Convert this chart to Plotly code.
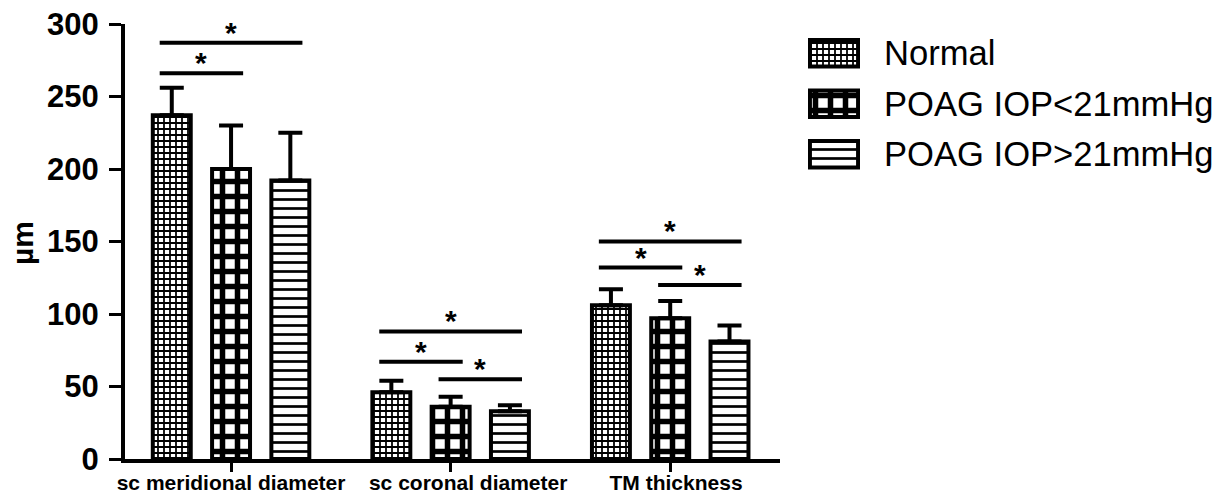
import plotly.graph_objects as go

categories = ["sc meridional diameter", "sc coronal diameter", "TM thickness"]
series_names = ["Normal", "POAG IOP<21mmHg", "POAG IOP>21mmHg"]
normal = [237, 46, 106]
poag_low = [200, 36, 97]
poag_high = [192, 33, 81]
normal_err = [19, 8, 11]
poag_low_err = [30, 7, 12]
poag_high_err = [33, 4, 11]

# significance comparisons: group, bar i, bar j, bracket level (µm)
sig_group = [0, 0, 1, 1, 1, 2, 2, 2]
sig_from = [0, 0, 0, 0, 1, 0, 0, 1]
sig_to = [1, 2, 2, 1, 2, 2, 1, 2]
sig_level = [266, 287, 88, 67, 55, 150, 132, 120]
sig_label = ["*"] * 8

yticks = [0, 50, 100, 150, 200, 250, 300]

values = [normal, poag_low, poag_high]
errors = [normal_err, poag_low_err, poag_high_err]
patterns = [
    dict(shape="+", size=6, solidity=0.5),
    dict(shape="+", size=15, solidity=0.6),
    dict(shape="-", size=9, solidity=0.3),
]

W, H = 1217, 496
def xp(px):
    return px / W
def yp(py):
    return 1 - py / H

FONT = "Liberation Sans"
bargap = 0.19
bargroupgap = 0.36
n = len(series_names)
NB = "\u00a0"
# labels in the original sit slightly right of their ticks
tick_text = [categories[0], NB * 6 + categories[1], NB * 2 + categories[2]]

fig = go.Figure()
for k in range(n):
    pat = dict(fgcolor="black", bgcolor="white", fillmode="replace", **patterns[k])
    fig.add_trace(go.Bar(
        x=list(range(len(categories))), y=values[k], name=series_names[k],
        marker=dict(color="white", line=dict(color="black", width=4), pattern=pat),
        error_y=dict(type="data", array=errors[k], arrayminus=[0] * len(categories),
                     symmetric=False, color="black", thickness=4, width=12),
        showlegend=False, xaxis="x", yaxis="y",
    ))
    # custom legend swatch
    fig.add_trace(go.Bar(
        y=[k], x=[1], orientation="h", width=0.52,
        marker=dict(color="white", line=dict(color="black", width=4), pattern=pat),
        showlegend=False, xaxis="x2", yaxis="y2", hoverinfo="skip",
    ))
    fig.add_annotation(x=xp(882), xref="paper", y=k, yref="y2", text=series_names[k],
                       showarrow=False, xanchor="left", yanchor="middle",
                       font=dict(family=FONT, size=34.6, color="black"))

slot = (1 - bargap) / n
def bar_center(g, k):
    return g + (k - (n - 1) / 2) * slot

for g, i, j, lvl, lab in zip(sig_group, sig_from, sig_to, sig_level, sig_label):
    x0 = bar_center(g, i) - 0.055
    x1 = bar_center(g, j) + 0.055
    fig.add_shape(type="line", xref="x", yref="y", x0=x0, x1=x1, y0=lvl, y1=lvl,
                  line=dict(color="black", width=4))
    fig.add_annotation(x=(x0 + x1) / 2, y=lvl, xref="x", yref="y", text="<b>" + lab + "</b>",
                       showarrow=False, yanchor="bottom", yshift=-8,
                       font=dict(family=FONT, size=30, color="black"))

fig.add_annotation(x=xp(22), y=yp(243), xref="paper", yref="paper", text="<b>µm</b>",
                   textangle=-90, showarrow=False, xanchor="center", yanchor="middle",
                   font=dict(family=FONT, size=30, color="black"))

fig.update_layout(
    width=W, height=H, margin=dict(l=0, r=0, t=0, b=0),
    paper_bgcolor="white", plot_bgcolor="white",
    barmode="group", bargap=bargap, bargroupgap=bargroupgap,
    showlegend=False,
    xaxis=dict(domain=[xp(125), xp(780)], range=[-0.483, 2.5],
               tickvals=list(range(len(categories))), ticktext=tick_text, tickangle=0,
               ticks="outside", ticklen=9, tickwidth=3, tickcolor="black",
               showline=True, linewidth=4, linecolor="black", showgrid=False,
               zeroline=False, automargin=False, ticklabelstandoff=-7,
               ticklabeloverflow="allow",
               tickfont=dict(family=FONT, size=21, color="black", weight="bold")),
    yaxis=dict(domain=[yp(459), yp(24)], range=[0, 300],
               tickvals=yticks, ticks="outside", ticklen=12, tickwidth=3, tickcolor="black",
               showline=True, linewidth=4, linecolor="black", showgrid=False,
               zeroline=False, automargin=False, ticklabelstandoff=4,
               ticklabeloverflow="allow",
               tickfont=dict(family=FONT, size=31, color="black", weight="bold")),
    xaxis2=dict(domain=[xp(808), xp(860)], range=[-0.04, 1.04], visible=False,
                anchor="y2", fixedrange=True),
    yaxis2=dict(domain=[yp(179.5), yp(28)], range=[2.5, -0.5], visible=False,
                anchor="x2", fixedrange=True),
)

fig.write_html("out.html", post_script="document.body.style.margin='0px';",
               config={"displayModeBar": False})
